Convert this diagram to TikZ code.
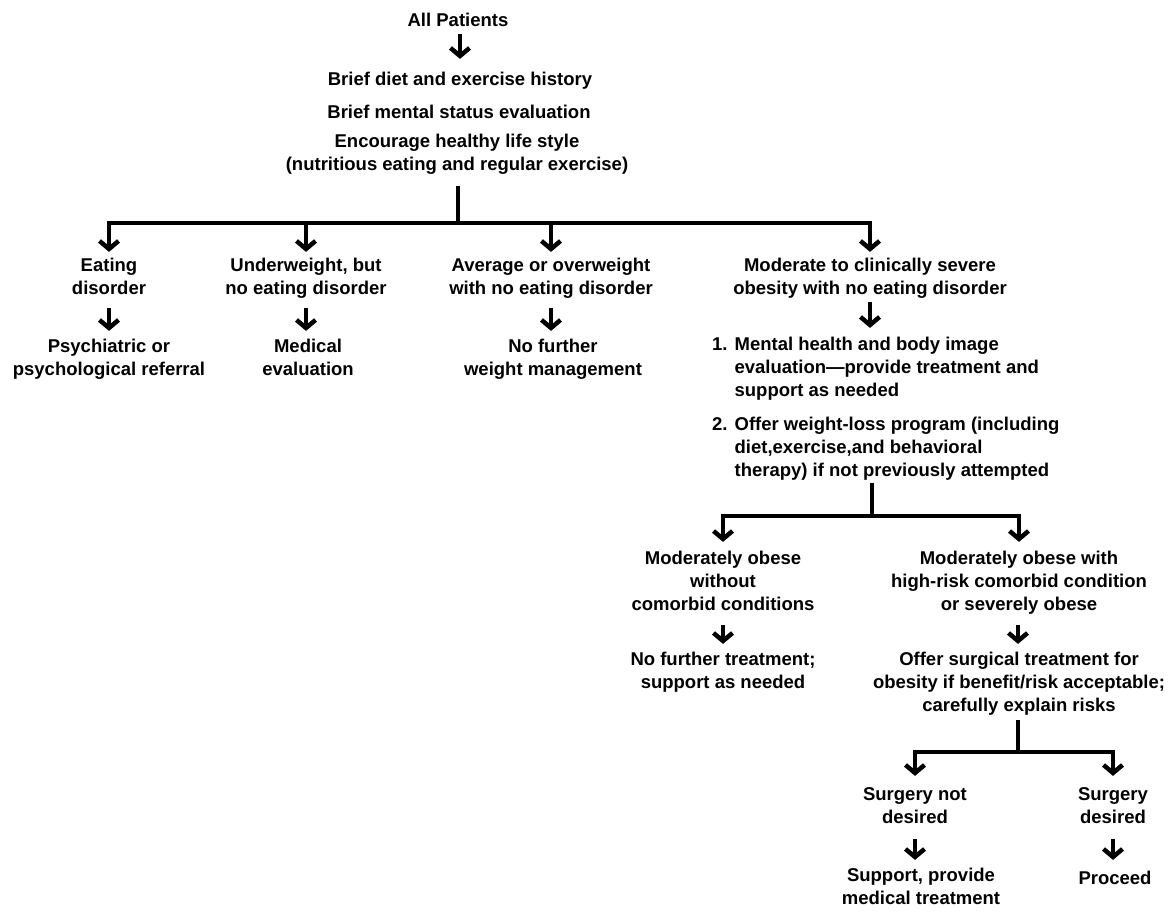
\documentclass[tikz,border=0pt]{standalone}
\usepackage{fontspec}
\setmainfont{Liberation Sans}
\usetikzlibrary{arrows.meta}
\tikzset{
  txt/.style={inner sep=0pt, align=center, anchor=north,
    font=\fontsize{18.5}{23}\selectfont\bfseries,
    execute at begin node=\strut, execute at end node=\strut},
  lsty/.style={inner sep=0pt, anchor=north west,
    font=\fontsize{18.5}{23}\selectfont\bfseries},
  conn/.style={line width=4pt, line join=miter},
  arr/.style={conn, line width=4.5pt, -{Straight Barb[length=8pt,width=19pt]}},
}
\begin{document}
\begin{tikzpicture}[x=1pt,y=-1pt]
\fill[white] (0,0) rectangle (1169,914);
\useasboundingbox (0,0) rectangle (1169,914);

% top stack
\node[txt] (all) at (458,9.9) {All Patients};
\node[txt] (b1) at (460,68.9) {Brief diet and exercise history};
\node[txt] (b2) at (459,101.9) {Brief mental status evaluation};
\node[txt] (enc) at (457,133.9) {Encourage healthy life style\\(nutritious eating and regular exercise)};
\coordinate (j1) at (458,223);

% level 2
\node[txt] (eat) at (109,257.9) {Eating\\disorder};
\node[txt] (under) at (306,257.9) {Underweight, but\\no eating disorder};
\node[txt] (avg) at (551,257.9) {Average or overweight\\with no eating disorder};
\node[txt] (mod) at (870,257.9) {Moderate to clinically severe\\obesity with no eating disorder};

% level 3
\node[txt] (psy) at (109,338.9) {Psychiatric or\\psychological referral};
\node[txt] (med) at (308,338.9) {Medical\\evaluation};
\node[txt] (nfw) at (553,338.9) {No further\\weight management};
\node[lsty] (lst) at (712,333.9) {\begin{tabular}[t]{@{}l@{\hspace{7pt}}l@{}}
1. & Mental health and body image\\
   & evaluation---provide treatment and\\
   & support as needed\\[11pt]
2. & Offer weight-loss program (including\\
   & diet,exercise,and behavioral\\
   & therapy) if not previously attempted
\end{tabular}};
\coordinate (j2) at (872,516);

% level 4
\node[txt] (mwo) at (723,550.9) {Moderately obese\\without\\comorbid conditions};
\node[txt] (mw) at (1019,550.9) {Moderately obese with\\high-risk comorbid condition\\or severely obese};
\node[txt] (nft) at (723,651.9) {No further treatment;\\support as needed};
\node[txt] (surg) at (1019,651.9) {Offer surgical treatment for\\obesity if benefit/risk acceptable;\\carefully explain risks};
\coordinate (j3) at (1018,752);

% level 5
\node[txt] (snd) at (915,786.9) {Surgery not\\desired};
\node[txt] (sd) at (1113,786.9) {Surgery\\desired};
\node[txt] (spt) at (921,867.9) {Support, provide\\medical treatment};
\node[txt] (proc) at (1115,867.9) {Proceed};

% connectors
\draw[arr, shorten <=1pt, shorten >=10pt] (all.south -| b1) -- (b1.north);
\draw[conn, shorten <=8pt] (j1 |- enc.south) -- (j1);
\foreach \n in {eat,under,avg,mod}
  \draw[arr, shorten >=6pt] (j1) -| (\n.north);
\foreach \a/\b in {eat/psy,under/med,avg/nfw}
  \draw[arr, shorten <=6pt, shorten >=8pt] (\a.south) -- (\a.south |- \b.north);
\draw[arr, shorten >=6pt] (mod.south) -- (mod.south |- lst.north);
\draw[conn] (j2 |- lst.south) -- (j2);
\foreach \n in {mwo,mw}
  \draw[arr, shorten >=9pt] (j2) -| (\n.north);
\draw[arr, shorten <=7pt, shorten >=8pt] (mwo.south) -- (mwo.south |- nft.north);
\draw[arr, shorten <=7pt, shorten >=8pt] (mw.south -| j3) -- (j3 |- surg.north);
\draw[conn, shorten <=1pt] (j3 |- surg.south) -- (j3);
\foreach \n in {snd,sd}
  \draw[arr, shorten >=11pt] (j3) -| (\n.north);
\draw[arr, shorten <=9pt, shorten >=8pt] (snd.south) -- (snd.south |- spt.north);
\draw[arr, shorten <=9pt, shorten >=8pt] (sd.south) -- (sd.south |- proc.north);
\end{tikzpicture}
\end{document}
